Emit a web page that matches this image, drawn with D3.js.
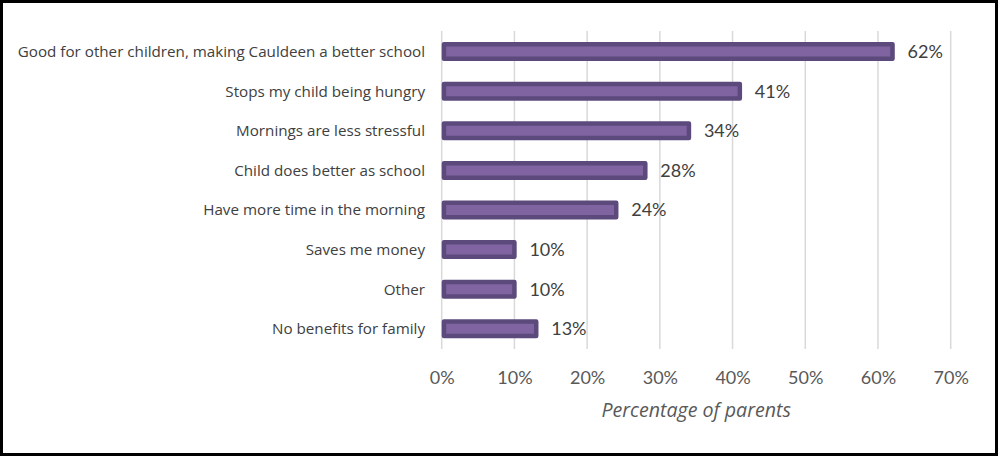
<!DOCTYPE html>
<html><head><meta charset="utf-8">
<script src="https://cdn.jsdelivr.net/npm/d3@7"></script>
<style>
html,body{margin:0;padding:0;background:#fff;}
svg{display:block;}
</style></head>
<body>
<svg id="chart" width="998" height="456"></svg>
<script>
const categories = [
  "Good for other children, making Cauldeen a better school",
  "Stops my child being hungry",
  "Mornings are less stressful",
  "Child does better as school",
  "Have more time in the morning",
  "Saves me money",
  "Other",
  "No benefits for family"
];
const values = [62, 41, 34, 28, 24, 10, 10, 13];
const tickValues = [0, 10, 20, 30, 40, 50, 60, 70];
const axisTitle = "Percentage of parents";

(function () {
const svg = d3.select("#chart");
const W = 998, H = 456;
const font = "Lato, 'Open Sans', sans-serif";
const font2 = "'Open Sans', sans-serif";

svg.append("rect").attr("x", 1.5).attr("y", 1.5).attr("width", W - 3).attr("height", H - 3)
  .attr("fill", "#fff").attr("stroke", "#000").attr("stroke-width", 3);

const x = d3.scaleLinear().domain([0, 70]).range([441.7, 950.7]);
const y = d3.scaleBand().domain(categories).range([31.8, 348.6]).paddingInner(0.52).paddingOuter(0.26);
const plotTop = 31, plotBottom = 349;

const g = svg.append("g");
g.selectAll("line.grid").data(tickValues).enter().append("line")
  .attr("class", "grid")
  .attr("x1", d => x(d)).attr("x2", d => x(d))
  .attr("y1", plotTop).attr("y2", plotBottom)
  .attr("stroke", "#d9d9d9").attr("stroke-width", 1.5);

const sw = 4.5;
g.selectAll("rect.bar").data(values).enter().append("rect")
  .attr("class", "bar")
  .attr("x", x(0) + sw / 2)
  .attr("y", (d, i) => y(categories[i]) + y.bandwidth() / 2 - (19 - sw) / 2)
  .attr("width", d => Math.max(0, x(d) - x(0) - sw / 2))
  .attr("height", 19 - sw)
  .attr("fill", "#8064a2")
  .attr("stroke", "#5c4a7c")
  .attr("stroke-width", sw)
  .attr("stroke-linejoin", "round");

g.selectAll("text.val").data(values).enter().append("text")
  .attr("class", "val")
  .attr("x", d => x(d) + 15)
  .attr("y", (d, i) => y(categories[i]) + y.bandwidth() / 2)
  .attr("dy", "0.36em")
  .attr("font-family", font).attr("font-size", 18).attr("fill", "#404040")
  .text(d => d + "%");

g.selectAll("text.cat").data(categories).enter().append("text")
  .attr("class", "cat")
  .attr("x", 425)
  .attr("y", d => y(d) + y.bandwidth() / 2)
  .attr("dy", "0.35em")
  .attr("text-anchor", "end")
  .attr("font-family", font2).attr("font-size", 15.2).attr("fill", "#404040")
  .text(d => d);

const axis = d3.axisBottom(x).tickValues(tickValues).tickFormat(d => d + "%").tickSize(0).tickPadding(0);
const ax = svg.append("g").attr("transform", "translate(0,383.5)").call(axis);
ax.select(".domain").remove();
ax.selectAll("text").attr("font-family", font).attr("font-size", 18).attr("fill", "#595959").attr("dy", "0").attr("y", 0);

svg.append("text")
  .attr("x", (x(0) + x(70)) / 2).attr("y", 416.5)
  .attr("text-anchor", "middle")
  .attr("font-family", font2).attr("font-size", 19.6).attr("font-style", "italic").attr("fill", "#595959")
  .text(axisTitle);
})();
</script>
</body></html>
